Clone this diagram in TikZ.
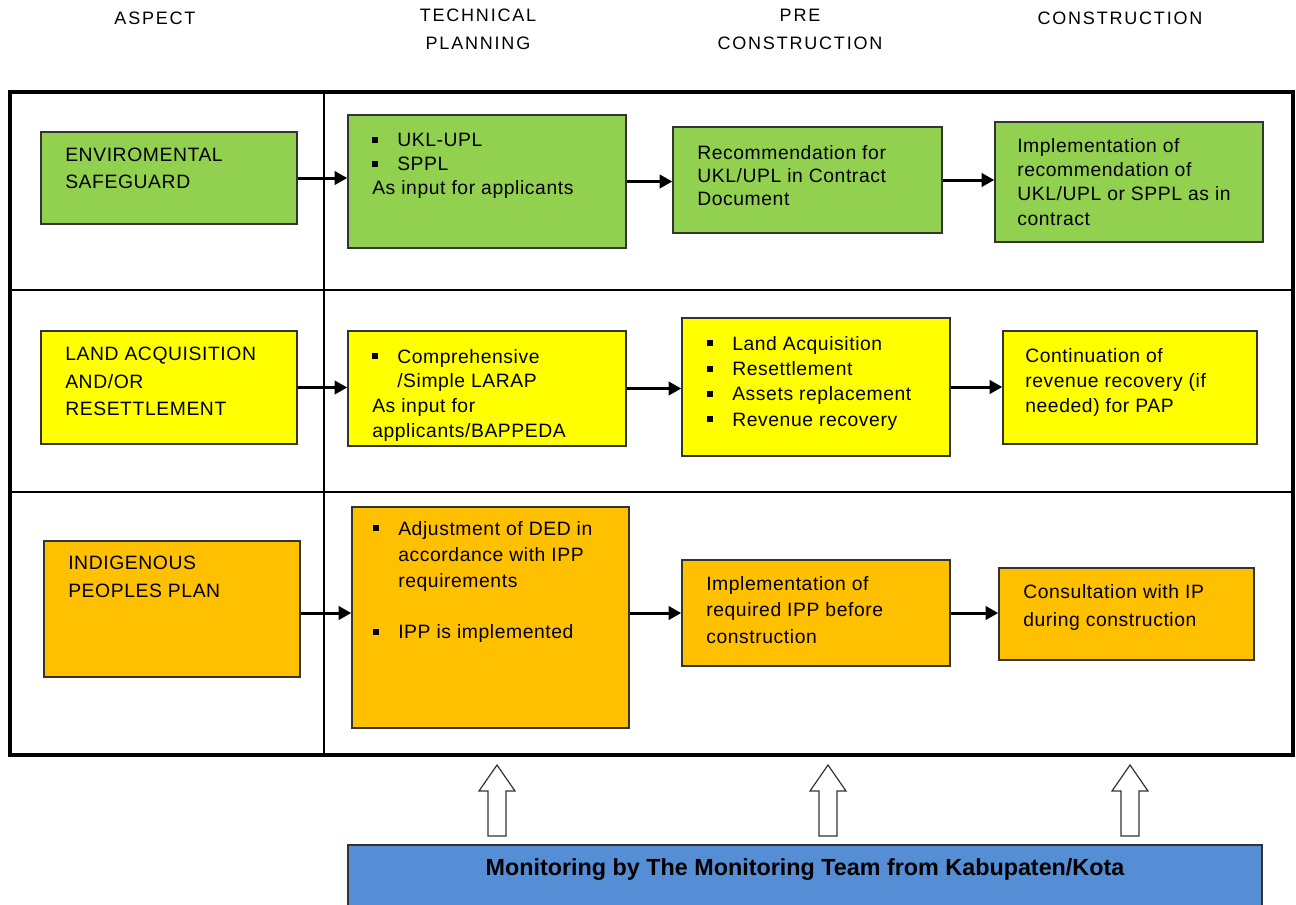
\documentclass[tikz,border=0pt]{standalone}
\usepackage{fontspec}
\setmainfont[LetterSpace=3]{Liberation Sans}
\newfontfamily\hdrfont[LetterSpace=10]{Liberation Sans}
\newfontfamily\monfont{Liberation Sans}
\usetikzlibrary{arrows.meta}
\definecolor{envgreen}{HTML}{92D050}
\definecolor{laryellow}{HTML}{FFFF00}
\definecolor{ipporange}{HTML}{FFC000}
\definecolor{monblue}{HTML}{558ED5}
\definecolor{boxedge}{HTML}{333333}
\newcommand\sqb{\makebox[18.75pt][l]{\rule[0.2em]{0.32em}{0.32em}}}
\newcommand\ind{\hspace*{18.75pt}}
\newcommand\boxat[6]{\node[#1, minimum width={(#4-#2)*0.75pt}, minimum height={(#5-#3)*0.75pt}] (#6) at ({(#2+#4)/2},{(#3+#5)/2}) {};}
\tikzset{
  gbox/.style={draw=boxedge, line width=1.1pt, fill=envgreen, inner sep=0},
  ybox/.style={draw=boxedge, line width=1.1pt, fill=laryellow, inner sep=0},
  obox/.style={draw=boxedge, line width=1.1pt, fill=ipporange, inner sep=0},
  mbox/.style={draw=boxedge, line width=1.1pt, fill=monblue, inner sep=0},
  txt/.style={inner sep=0, anchor=north west, align=left, font=\fontsize{14.5}{#1}\selectfont},
  hdr/.style={inner sep=0, align=center, font=\hdrfont\fontsize{13.5}{21}\selectfont},
  flow/.style={line width=2.25pt, -{Triangle[length=9.5pt,width=10pt]}},
  hollow/.style={draw=boxedge, line width=0.9pt, fill=white, line join=miter},
}
\begin{document}
\begin{tikzpicture}[x=0.75pt,y=-0.75pt]
\useasboundingbox (0,0) rectangle (1296,904);
% headers
\node[hdr] (h1) at (155,18) {ASPECT};
\node[hdr, anchor=north] (h2) at (478,9) {TECHNICAL\\PLANNING};
\node[hdr, anchor=north] (h3) at (800,9) {PRE\\CONSTRUCTION};
\node[hdr] (h4) at (1120,18) {CONSTRUCTION};
% frame
\draw[line width=2.8pt] (10,92) rectangle (1293,755);
\draw[line width=2.2pt] (10,290) -- (1293,290);
\draw[line width=2.2pt] (10,492) -- (1293,492);
\draw[line width=1.5pt] (324,92) -- (324,755);
% row 1
\boxat{gbox}{41}{132}{297}{224}{env}
\boxat{gbox}{348}{115}{626}{248}{ukl}
\boxat{gbox}{673}{127}{942}{233}{rec}
\boxat{gbox}{995}{122}{1263}{242}{impl}
\node[txt=20.25] (envt) at (65,148) {ENVIROMENTAL\\SAFEGUARD};
\node[txt=18] (uklt) at (372,133) {\sqb UKL-UPL\\\sqb SPPL\\As input for applicants};
\node[txt=17.5] (rect) at (697,145) {Recommendation for\\UKL/UPL in Contract\\Document};
\node[txt=18.2] (implt) at (1017,138) {Implementation of\\recommendation of\\UKL/UPL or SPPL as in\\contract};
% row 2
\boxat{ybox}{41}{331}{297}{444}{land}
\boxat{ybox}{348}{331}{626}{446}{comp}
\boxat{ybox}{682}{318}{950}{456}{la}
\boxat{ybox}{1003}{331}{1257}{444}{cont}
\node[txt=20.5] (landt) at (65,347) {LAND ACQUISITION\\AND/OR\\RESETTLEMENT};
\node[txt=18.5] (compt) at (372,349) {\sqb Comprehensive\\\ind/Simple LARAP\\As input for\\applicants/BAPPEDA};
\node[txt=19] (lat) at (707,336) {\sqb Land Acquisition\\\sqb Resettlement\\\sqb Assets replacement\\\sqb Revenue recovery};
\node[txt=19] (contt) at (1025,348) {Continuation of\\revenue recovery (if\\needed) for PAP};
% row 3
\boxat{obox}{44}{541}{300}{677}{ind}
\boxat{obox}{352}{507}{629}{728}{adj}
\boxat{obox}{682}{560}{950}{666}{iipp}
\boxat{obox}{999}{568}{1254}{660}{cons}
\node[txt=21] (indt) at (68,556) {INDIGENOUS\\PEOPLES PLAN};
\node[txt=19.5] (adjt) at (373,521) {\sqb Adjustment of DED in\\\ind accordance with IPP\\\ind requirements\\[19pt]\sqb IPP is implemented};
\node[txt=20] (iippt) at (706,576) {Implementation of\\required IPP before\\construction};
\node[txt=21.5] (const) at (1023,584) {Consultation with IP\\during construction};
% flow arrows
\draw[flow] (env.east) -- (env.east -| ukl.west);
\draw[flow] (ukl.east) -- (ukl.east -| rec.west);
\draw[flow] (rec.east) -- (rec.east -| impl.west);
\draw[flow] (land.east) -- (land.east -| comp.west);
\draw[flow] (comp.east) -- (comp.east -| la.west);
\draw[flow] (la.east) -- (la.east -| cont.west);
\draw[flow] (ind.east |- iipp.west) -- (iipp.west -| adj.west);
\draw[flow] (adj.east |- iipp.west) -- (iipp.west);
\draw[flow] (iipp.east) -- (iipp.east -| cons.west);
% monitoring
\boxat{mbox}{348}{845}{1262}{906}{mon}
\node[inner sep=0, font=\monfont\bfseries\fontsize{17.5}{21}\selectfont] (mont) at (805,870) {Monitoring by The Monitoring Team from Kabupaten/Kota};
\foreach \x/\n in {497/a1,828/a2,1130/a3}{
  \coordinate (\n) at (\x,765);
  \draw[hollow] (\n) -- ++(18,26) -- ++(-9,0) -- ++(0,45) -- ++(-18,0) -- ++(0,-45) -- ++(-9,0) -- cycle;
}
\end{tikzpicture}
\end{document}
